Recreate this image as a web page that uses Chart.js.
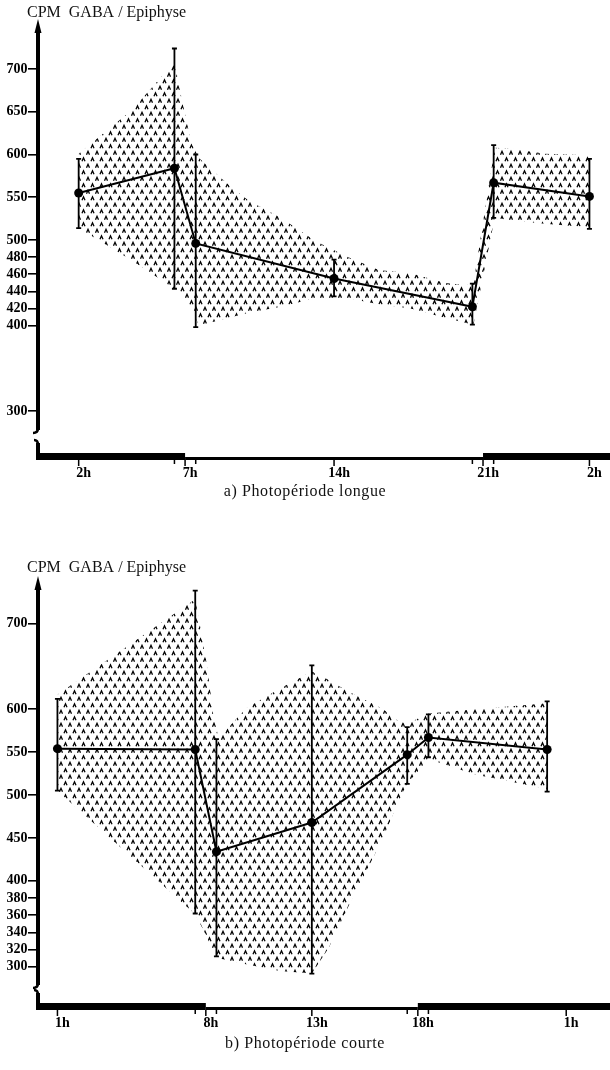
<!DOCTYPE html>
<html><head><meta charset="utf-8">
<script src="https://cdn.jsdelivr.net/npm/chart.js@4.4.1/dist/chart.umd.min.js"></script>
<style>
html,body{margin:0;padding:0;background:#fff;}
#wrap{position:relative;width:610px;height:1070px;overflow:hidden;}
canvas{position:absolute;left:0;}
#ca{top:0;}
#cb{top:520px;}
</style></head><body>
<div id="wrap">
<canvas id="ca" width="610" height="520"></canvas>
<canvas id="cb" width="610" height="550"></canvas>
</div>
<script>
// ---------- a) Photopériode longue ----------
const hoursA   = [2, 6.5, 7.5, 14, 20.5, 21.5, 26];
const meanA    = [555, 584, 496, 455, 422, 567, 551];
const errHighA = [595, 724, 600, 477, 449, 611, 595];
const errLowA  = [514, 443, 398, 434, 401, 526, 513];
const bandHoursA = [2, 4.5, 6.5, 6.85, 7.3, 7.65, 9.2, 10, 11.5, 13.1, 14.65, 16.1, 17.6, 19.2, 20.2, 20.55, 21.55, 22.3, 23.9, 26];
const bandHighA  = [601, 652, 708, 664, 613, 596, 561, 546, 526, 499, 480, 465, 461, 450, 447, 449, 608, 607, 601, 599];
const bandLowA   = [514, 476, 443, 437, 420, 400, 410, 415, 422, 432, 432, 425, 420, 409, 403, 401, 526, 523, 519, 515];
const yTicksA = [300, 400, 420, 440, 460, 480, 500, 550, 600, 650, 700];
const xTickHoursA  = [2, 7, 14, 21, 26];
const xTickLabelsA = ['2h', '7h', '14h', '21h', '2h'];
const minorTicksA  = [6.5, 7.5, 20.5, 21.5];
const lightA = [7, 21];

// ---------- b) Photopériode courte ----------
const hoursB   = [1, 7.5, 8.5, 13, 17.5, 18.5, 24.1];
const meanB    = [554, 553, 434, 468, 547, 567, 553];
const errHighB = [612, 738, 565, 651, 579, 594, 609];
const errLowB  = [505, 362, 312, 292, 513, 544, 504];
const bandHoursB = [1, 7.5, 8.05, 8.35, 8.6, 9.9, 11.5, 13, 13.8, 14.7, 15.5, 16.3, 17.1, 17.5, 18.5, 20.7, 24.1];
const bandHighB  = [617, 728, 652, 594, 566, 601, 624, 644, 634, 621, 611, 601, 586, 583, 595, 600, 607];
const bandLowB   = [505, 361, 335, 316, 310, 303, 295, 292, 322, 369, 408, 447, 493, 513, 542, 524, 507];
const yTicksB = [300, 320, 340, 360, 380, 400, 450, 500, 550, 600, 700];
const xTickHoursB  = [1, 8, 13, 18, 25];
const xTickLabelsB = ['1h', '8h', '13h', '18h', '1h'];
const minorTicksB  = [7.5, 8.5, 17.5, 18.5];
const lightB = [8, 18];

const yTitle = 'CPM  GABA / Epiphyse';
const captionA = 'a) Photopériode longue';
const captionB = 'b) Photopériode courte';

const SERIF = '"Liberation Serif", "DejaVu Serif", serif';

function makePattern(ctx) {
  const c = document.createElement('canvas');
  c.width = 9; c.height = 13;
  const g = c.getContext('2d');
  g.strokeStyle = '#000'; g.lineWidth = 1.3;
  const caret = (x, y) => { g.beginPath(); g.moveTo(x - 1.5, y + 1.7); g.lineTo(x, y - 1.7); g.lineTo(x + 1.5, y + 1.7); g.stroke(); };
  caret(2.5, 3.5); caret(7, 10);
  return ctx.createPattern(c, 'repeat');
}

const decor = {
  id: 'decor',
  beforeDatasetDraw(chart, args, o) {
    if (args.index !== 2) return;
    const {ctx, scales: {x, y}} = chart;
    ctx.save();
    ctx.strokeStyle = '#000'; ctx.lineWidth = 1.8;
    o.hours.forEach((h, i) => {
      const px = x.getPixelForValue(h), t = y.getPixelForValue(o.hi[i]), b = y.getPixelForValue(o.lo[i]);
      ctx.beginPath();
      ctx.moveTo(px, t); ctx.lineTo(px, b);
      ctx.moveTo(px - 2.5, t); ctx.lineTo(px + 2.5, t);
      ctx.moveTo(px - 2.5, b); ctx.lineTo(px + 2.5, b);
      ctx.stroke();
    });
    ctx.restore();
  },
  afterDraw(chart, args, o) {
    const {ctx, chartArea: ca, scales: {x}} = chart;
    const ax = ca.left, bottom = ca.bottom, W = chart.width;
    ctx.save();
    ctx.fillStyle = '#000'; ctx.strokeStyle = '#000';
    // light / dark bar
    const on = x.getPixelForValue(o.light[0]), off = x.getPixelForValue(o.light[1]);
    ctx.fillRect(ax - 2, bottom - 7, on - ax + 2, 7);
    ctx.fillRect(on, bottom - 3, off - on, 3);
    ctx.fillRect(off, bottom - 7, W - off, 7);
    // ticks below the bar
    ctx.lineWidth = 1.5;
    ctx.beginPath();
    o.major.forEach(h => { const p = x.getPixelForValue(h); ctx.moveTo(p, bottom); ctx.lineTo(p, bottom + 6); });
    o.minor.forEach(h => { const p = x.getPixelForValue(h); ctx.moveTo(p, bottom - 2); ctx.lineTo(p, bottom + 4); });
    ctx.stroke();
    // y axis with arrow and break
    const bt = bottom - o.breakTop, bb = bottom - o.breakBottom;
    ctx.lineWidth = 4;
    ctx.beginPath(); ctx.moveTo(ax, ca.top + 10); ctx.lineTo(ax, bt); ctx.stroke();
    ctx.beginPath(); ctx.moveTo(ax, ca.top); ctx.lineTo(ax - 3.5, ca.top + 14); ctx.lineTo(ax + 3.5, ca.top + 14); ctx.closePath(); ctx.fill();
    ctx.lineWidth = 2.5;
    ctx.beginPath(); ctx.moveTo(ax, bt - 2); ctx.quadraticCurveTo(ax, bt + 3, ax - 5, bt + 3); ctx.stroke();
    ctx.beginPath(); ctx.moveTo(ax - 4, bb - 3); ctx.quadraticCurveTo(ax, bb - 3, ax, bb + 2); ctx.stroke();
    ctx.lineWidth = 4;
    ctx.beginPath(); ctx.moveTo(ax, bb); ctx.lineTo(ax, bottom - 4); ctx.stroke();
    // header and caption
    ctx.fillStyle = '#111';
    ctx.textBaseline = 'alphabetic';
    ctx.textAlign = 'left';
    ctx.font = '16px ' + SERIF;
    ctx.fillText(o.header, o.headerX, o.headerY);
    ctx.font = '16px ' + SERIF;
    ctx.letterSpacing = '0.6px';
    ctx.textAlign = 'center';
    ctx.fillText(o.caption, o.captionX, o.captionY);
    ctx.letterSpacing = '0px';
    ctx.restore();
  }
};

function buildChart(canvasId, d) {
  const canvas = document.getElementById(canvasId);
  const ctx = canvas.getContext('2d');
  const pattern = makePattern(ctx);
  const pts = (xs, ys) => xs.map((h, i) => ({x: h, y: ys[i]}));
  return new Chart(ctx, {
    type: 'line',
    data: {
      datasets: [
        {data: pts(d.bandHours, d.bandHigh), fill: '+1', backgroundColor: pattern, borderColor: 'rgba(0,0,0,0)', borderWidth: 1, pointRadius: 0, tension: 0},
        {data: pts(d.bandHours, d.bandLow), fill: false, borderColor: 'rgba(0,0,0,0)', borderWidth: 1, pointRadius: 0, tension: 0},
        {data: pts(d.hours, d.mean), fill: false, borderColor: '#000', borderWidth: 2, pointRadius: 4.5, pointBackgroundColor: '#000', pointBorderColor: '#000', pointBorderWidth: 0, tension: 0, clip: false}
      ]
    },
    options: {
      responsive: false,
      animation: false,
      events: [],
      layout: {padding: {top: d.padTop, bottom: d.padBottom, left: 0, right: 0}},
      plugins: {
        legend: {display: false},
        tooltip: {enabled: false},
        decor: {
          hours: d.hours, hi: d.errHigh, lo: d.errLow, light: d.light,
          major: d.xTickHours, minor: d.minorTicks,
          breakTop: d.breakTop, breakBottom: d.breakBottom,
          header: yTitle, headerX: 27, headerY: d.headerY,
          caption: d.caption, captionX: d.captionX, captionY: d.captionY
        }
      },
      scales: {
        x: {
          type: 'linear', min: d.xMin, max: d.xMax,
          afterBuildTicks: s => { s.ticks = d.xTickHours.map(v => ({value: v})); },
          afterFit: s => { s.height = 25; },
          ticks: {autoSkip: false, maxRotation: 0, color: '#000', padding: d.xLabelPad, labelOffset: 5,
                  font: {family: SERIF, weight: 'bold', size: 14},
                  callback: (v, i) => d.xTickLabels[i]},
          grid: {display: false, drawTicks: false},
          border: {display: false}
        },
        y: {
          type: 'linear', min: d.yMin, max: d.yMax,
          afterBuildTicks: s => { s.ticks = d.yTicks.map(v => ({value: v})); },
          afterFit: s => { s.width = 38; },
          ticks: {autoSkip: false, color: '#000', padding: 0.5,
                  font: {family: SERIF, weight: 'bold', size: 14},
                  callback: v => String(v)},
          grid: {drawOnChartArea: false, drawTicks: true, tickLength: 10, color: '#000', lineWidth: 1.6},
          border: {display: false}
        }
      }
    },
    plugins: [decor]
  });
}

buildChart('ca', {
  hours: hoursA, mean: meanA, errHigh: errHighA, errLow: errLowA,
  bandHours: bandHoursA, bandHigh: bandHighA, bandLow: bandLowA,
  yTicks: yTicksA, xTickHours: xTickHoursA, xTickLabels: xTickLabelsA, minorTicks: minorTicksA, light: lightA,
  caption: captionA,
  xMin: 0.089, xMax: 26.755, yMin: 242.7, yMax: 758.5,
  padTop: 19, padBottom: 35, xLabelPad: 5,
  breakTop: 30, breakBottom: 17,
  headerY: 17, captionX: 305, captionY: 496
});
buildChart('cb', {
  hours: hoursB, mean: meanB, errHigh: errHighB, errLow: errLowB,
  bandHours: bandHoursB, bandHigh: bandHighB, bandLow: bandLowB,
  yTicks: yTicksB, xTickHours: xTickHoursB, xTickLabels: xTickLabelsB, minorTicks: minorTicksB, light: lightB,
  caption: captionB,
  xMin: 0.083, xMax: 26.853, yMin: 249.6, yMax: 755.1,
  padTop: 56, padBottom: 35, xLabelPad: 4.5,
  breakTop: 25, breakBottom: 17,
  headerY: 52, captionX: 305, captionY: 528
});
</script>
</body></html>
